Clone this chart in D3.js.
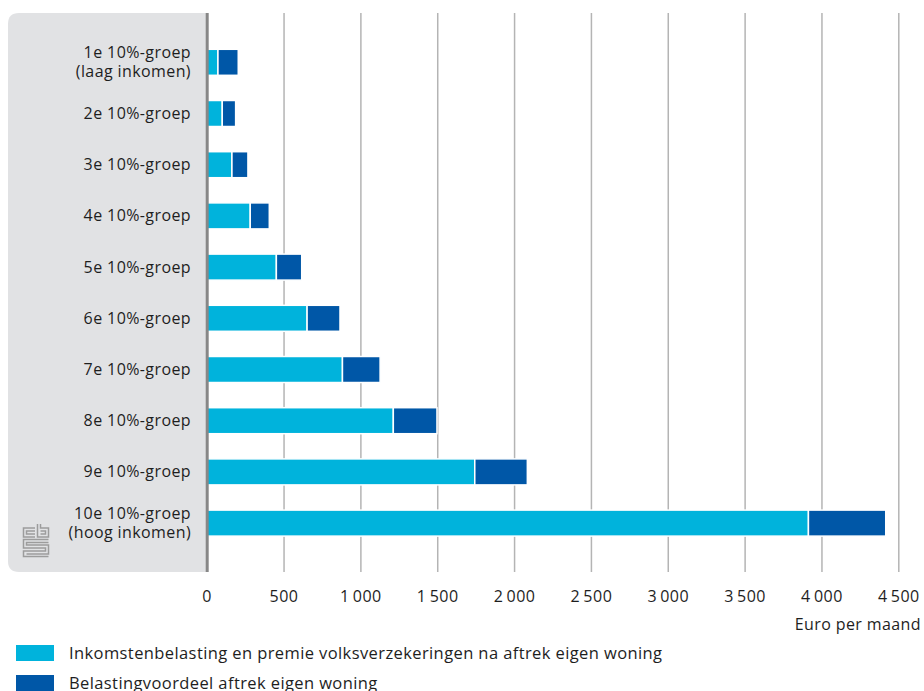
<!DOCTYPE html>
<html>
<head>
<meta charset="utf-8">
<script src="https://cdn.jsdelivr.net/npm/d3@7"></script>
<style>
  html, body { margin: 0; padding: 0; background: #fff; }
  svg { display: block; }
  text { font-family: "Open Sans", "Noto Sans", sans-serif; fill: #1e1e1e; }
</style>
</head>
<body>
<svg id="chart" width="924" height="691"></svg>
<script>
// Income groups (deciles)
const categories = [
  ["1e 10%-groep", "(laag inkomen)"],
  ["2e 10%-groep"],
  ["3e 10%-groep"],
  ["4e 10%-groep"],
  ["5e 10%-groep"],
  ["6e 10%-groep"],
  ["7e 10%-groep"],
  ["8e 10%-groep"],
  ["9e 10%-groep"],
  ["10e 10%-groep", "(hoog inkomen)"]
];

// Euro per month
const inkomstenbelasting = [70, 98, 161, 280, 450, 650, 880, 1211, 1741, 3912];
const belastingvoordeel  = [132, 87, 104, 124, 165, 214, 245, 284, 342, 503];

const tickValues = [0, 500, 1000, 1500, 2000, 2500, 3000, 3500, 4000, 4500];
const seriesNames = [
  "Inkomstenbelasting en premie volksverzekeringen na aftrek eigen woning",
  "Belastingvoordeel aftrek eigen woning"
];
const colors = ["#00b3dc", "#0057a7"];
const axisTitle = "Euro per maand";

const svg = d3.select("#chart");

const x = d3.scaleLinear().domain([0, 4500]).range([207.2, 898.8]);
const y = d3.scaleBand()
  .domain(d3.range(categories.length))
  .range([36.7, 548.7])
  .paddingInner(0.492)
  .paddingOuter(0.246);

const plotTop = 13, plotBottom = 572;

// grey label panel with rounded left corners
const pl = 8, pr = x(0), r = 11;
svg.append("path")
  .attr("d", `M${pr},${plotTop} H${pl + r} Q${pl},${plotTop} ${pl},${plotTop + r} V${plotBottom - r} Q${pl},${plotBottom} ${pl + r},${plotBottom} H${pr} Z`)
  .attr("fill", "#e1e2e4");

// vertical grid lines
svg.append("g")
  .selectAll("line")
  .data(tickValues.filter(d => d > 0))
  .join("line")
  .attr("x1", d => x(d)).attr("x2", d => x(d))
  .attr("y1", plotTop).attr("y2", plotBottom)
  .attr("stroke", "#b4b4b4")
  .attr("stroke-width", 1.5);

// stacked bars
const stackData = categories.map((c, i) => ({
  i, inkomsten: inkomstenbelasting[i], voordeel: belastingvoordeel[i]
}));
const stack = d3.stack().keys(["inkomsten", "voordeel"])(stackData);

svg.append("g")
  .selectAll("g")
  .data(stack)
  .join("g")
  .attr("fill", (d, k) => colors[k])
  .selectAll("rect")
  .data(d => d)
  .join("rect")
  .attr("x", d => x(d[0]))
  .attr("y", d => y(d.data.i))
  .attr("width", d => x(d[1]) - x(d[0]))
  .attr("height", y.bandwidth())
  .attr("stroke", "#fff")
  .attr("stroke-width", 1.5);

// zero axis line
svg.append("line")
  .attr("x1", x(0)).attr("x2", x(0))
  .attr("y1", plotTop).attr("y2", plotBottom)
  .attr("stroke", "#878787")
  .attr("stroke-width", 3);

// category labels
const labels = svg.append("g")
  .selectAll("text")
  .data(categories)
  .join("text")
  .attr("text-anchor", "end")
  .attr("font-size", 16)
  .attr("letter-spacing", 0.4)
  .attr("x", 191)
  .attr("y", (d, i) => y(i) + y.bandwidth() / 2);
labels.each(function (lines) {
  const t = d3.select(this);
  const lh = 19;
  const start = -(lines.length - 1) * lh / 2;
  lines.forEach((ln, j) => {
    t.append("tspan")
      .attr("x", 191)
      .attr("dy", j === 0 ? start + 5.5 : lh)
      .text(ln);
  });
});

// x axis tick labels
const fmt = v => d3.format(",")(v).replace(/,/g, "\u2009");
svg.append("g")
  .selectAll("text")
  .data(tickValues)
  .join("text")
  .attr("x", d => x(d))
  .attr("y", 602)
  .attr("text-anchor", "middle")
  .attr("font-size", 16)
  .attr("letter-spacing", 0.5)
  .text(fmt);

svg.append("text")
  .attr("x", 921)
  .attr("y", 630)
  .attr("text-anchor", "end")
  .attr("font-size", 16)
  .attr("letter-spacing", 0.4)
  .text(axisTitle);

// legend
const legend = svg.append("g")
  .selectAll("g")
  .data(seriesNames)
  .join("g")
  .attr("transform", (d, i) => `translate(16, ${645 + i * 30})`);
legend.append("rect")
  .attr("width", 38).attr("height", 16)
  .attr("fill", (d, i) => colors[i]);
legend.append("text")
  .attr("x", 53).attr("y", 14)
  .attr("font-size", 16.5)
  .attr("letter-spacing", 0.4)
  .text(d => d);

// statistics bureau emblem
const logo = svg.append("g")
  .attr("fill", "none")
  .attr("stroke", "#9c9c9c")
  .attr("stroke-width", 1.5);
logo.append("path").attr("d",
  "M35,528 H23.5 V537 H35 M35,531 H26.5 V534 H35");
logo.append("path").attr("d",
  "M37.5,524 V537 H48.5 V528 H40.5 V524 M40.5,531 H45.5 V534 H40.5");
logo.append("path").attr("d",
  "M48.5,539.5 H23.5 V548 H45.5 V551 H23.5 V556.5 H48.5 M48.5,542.5 H26.5 V545 H48.5 V554 H26.5");
</script>
</body>
</html>
